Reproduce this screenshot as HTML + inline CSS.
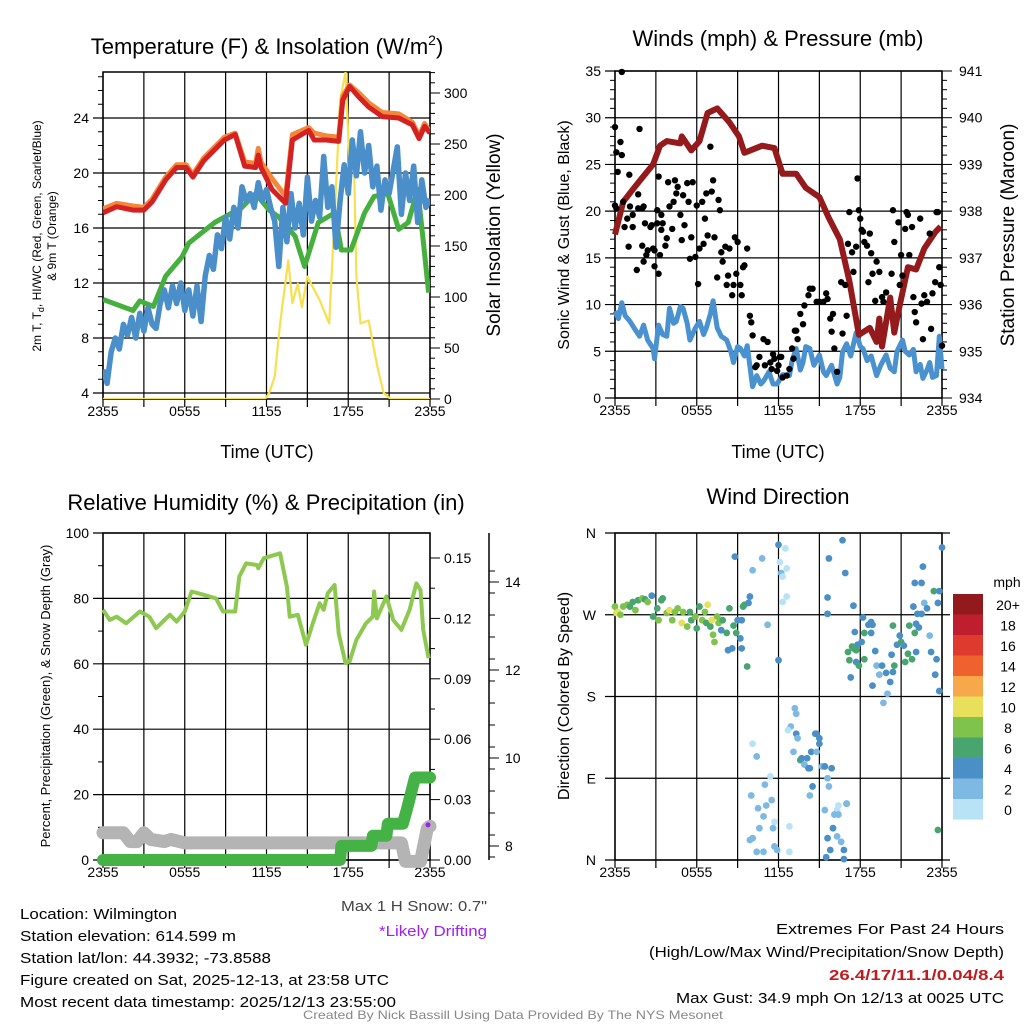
<!DOCTYPE html>
<html><head><meta charset="utf-8"><style>
html,body{margin:0;padding:0;background:#fff;}
svg{display:block;font-family:"Liberation Sans",sans-serif;}
</style></head><body>
<svg id="fig" width="1024" height="1024" viewBox="0 0 1024 1024" xmlns="http://www.w3.org/2000/svg"></svg>
<script>
// ---------- DATA ----------
const tempT = [0,1,2.2,3,3.6,4.6,5.4,6.1,6.6,7.4,8.9,9.7,10.4,11.2,11.4,11.6,12.4,13.4,13.9,15.1,15.5,16.4,17.3,17.6,18.1,18.8,19.5,20.5,21.7,22.7,23.2,23.6,24];
const tempRed = [17.1,17.55,17.3,17.3,17.9,19.5,20.4,20.4,19.7,20.9,22.4,22.8,20.5,20.4,21.3,20.4,18.8,17.8,22.4,23.1,22.4,22.4,22.3,25.3,26.3,25.5,24.8,24.1,24.0,23.5,22.5,23.4,22.9];
const tempOrange = [17.4,17.8,17.6,17.5,18.1,19.7,20.6,20.6,19.9,21.1,22.6,22.9,20.8,20.7,21.8,20.8,19.6,18.3,22.8,23.3,22.9,22.7,22.6,25.6,26.4,25.8,25.1,24.4,24.3,23.7,22.7,23.6,23.0];
const dewT = [0,2.2,2.7,3.7,4.6,5.8,6.3,8.2,10.2,11.2,12.2,12.9,14.1,14.8,15.8,17.0,17.5,18.2,19.2,19.9,20.9,21.7,22.4,23.1,23.5,23.9];
const dewV = [10.8,10.0,10.7,10.3,12.5,13.9,14.9,16.4,17.5,18.5,17.3,16.8,15.4,13.2,16.4,17.1,14.4,14.4,17.1,18.3,18.5,15.9,16.4,18.8,15.1,11.3];
const blueT = [0,0.3,0.6,0.9,1.2,1.5,1.8,2.1,2.4,2.7,3.0,3.3,3.6,3.9,4.2,4.5,4.8,5.1,5.4,5.7,6.0,6.3,6.6,6.9,7.2,7.5,7.8,8.1,8.4,8.7,9.0,9.3,9.6,9.9,10.2,10.5,10.8,11.1,11.4,11.7,12.0,12.3,12.6,12.9,13.2,13.5,13.8,14.1,14.4,14.7,15.0,15.3,15.6,15.9,16.2,16.5,16.8,17.1,17.4,17.7,18.0,18.3,18.6,18.9,19.2,19.5,19.8,20.1,20.4,20.7,21.0,21.3,21.6,21.9,22.2,22.5,22.8,23.1,23.4,23.7,24];
const blueV = [5.7,4.7,7.0,8.0,7.2,9.0,8.2,9.5,8.0,9.8,8.5,10.2,9.0,8.7,10.5,11.5,10.2,11.8,10.5,12.0,10.0,11.5,9.6,11.8,9.2,12.5,14.0,13.0,15.5,14.5,16.8,15.2,17.5,16.0,19.0,18.0,18.5,17.5,19.3,18.0,18.8,17.5,16.5,13.2,17.5,15.0,18.5,16.0,17.8,15.5,19.7,16.5,18.0,16.8,21.2,17.5,19.0,14.6,18.0,20.6,18.5,22.4,19.8,23.0,20.0,22.0,19.0,20.5,17.3,19.5,18.5,20.2,21.9,17.0,20.0,18.0,20.5,16.4,19.5,17.5,18.1];
const solT = [0,11.9,12.2,12.6,13.0,13.6,13.9,14.3,14.6,15.0,15.4,15.9,16.6,17.0,17.4,17.8,18.1,18.4,18.6,18.9,19.5,19.9,20.2,20.6,21.1,21.6,24];
const solV = [0,0,6,22,74,136,94,113,90,120,110,97,74,179,293,320,228,244,120,74,77,48,28,6,0,0,0];
const presT = [0,0.6,1.4,2.8,3.3,3.8,4.8,4.9,5.6,6.2,6.8,7.5,8.4,9.1,9.5,10.8,11.7,12.3,13.3,14.0,15.0,15.7,16.5,17.2,17.9,18.7,19.2,19.4,19.6,20.2,20.5,20.8,21.5,22.1,22.7,23.5,23.9];
const presV = [937.5,938.2,938.5,939.0,939.4,939.5,939.45,939.6,939.3,939.5,940.1,940.2,939.9,939.6,939.25,939.4,939.35,938.8,938.8,938.5,938.3,937.85,937.4,936.5,935.35,935.5,935.2,935.7,935.1,936.15,935.4,935.85,936.8,936.75,937.2,937.55,937.67];
const sonicT = [0,0.25,0.5,0.75,1.1,1.4,1.8,2.1,2.4,2.8,2.9,3.2,3.5,3.8,4.0,4.3,4.5,4.8,5.0,5.3,5.5,5.9,6.2,6.5,6.7,7.0,7.2,7.5,7.8,8.2,8.5,8.7,9.0,9.2,9.5,9.7,10.1,10.4,10.7,10.9,11.3,11.6,11.9,12.3,12.8,13.0,13.3,13.6,13.8,14.0,14.3,14.6,15.0,15.3,15.5,15.9,16.3,16.5,16.7,17.0,17.3,17.7,18.0,18.2,18.5,18.8,19.2,19.5,19.9,20.2,20.5,20.7,21.1,21.3,21.6,21.9,22.1,22.4,22.6,22.9,23.1,23.3,23.6,23.8,24.0];
const sonicV = [9.3,8.5,10.2,8.8,8.2,7.5,6.6,7.8,6.2,5.3,4.2,7.8,6.8,6.6,9.6,8.0,8.2,9.8,9.6,8.0,6.2,7.5,8.2,6.8,7.5,9.0,10.4,7.5,6.6,6.2,5.0,3.8,5.5,5.3,4.5,5.6,1.2,2.4,1.5,1.8,2.8,1.5,1.5,2.5,2.4,4.0,5.3,3.0,3.8,5.5,5.3,3.5,4.6,2.8,2.4,3.5,1.5,2.2,4.9,5.8,4.5,7.0,5.5,5.3,4.0,4.5,2.4,3.5,4.6,3.2,2.8,5.0,6.2,5.0,4.6,5.2,2.8,3.6,2.1,3.0,3.8,2.2,2.4,6.6,3.1];
const gustT = [0,0.5,0.1,0.4,0.5,0.2,0,0.1,0.6,0.9,0.7,1.0,1.05,1.1,1.3,1.3,1.6,1.7,1.8,1.7,2.0,2.1,2.0,2.1,2.2,2.3,2.4,2.6,2.7,2.8,2.9,3.1,2.9,3.1,3.2,3.2,3.3,3.4,3.4,3.5,3.7,3.8,3.9,4.0,4.2,4.3,4.4,4.5,4.6,4.8,4.9,5.0,5.1,5.3,5.4,5.5,5.6,5.7,5.9,6.0,6.1,6.2,6.4,6.5,6.6,6.7,6.8,7.0,7.1,7.2,7.3,7.5,7.6,7.7,7.8,7.9,8.1,8.2,8.3,8.4,8.6,8.7,8.8,8.9,9.0,9.2,9.3,9.4,9.5,9.7,9.9,10.0,10.1,10.3,10.4,10.6,10.9,11.0,11.2,11.4,11.5,11.6,11.7,11.9,12.0,12.1,12.2,12.3,12.6,12.8,13.0,13.1,13.2,13.3,13.4,13.6,13.8,13.9,14.2,14.3,14.5,14.8,15.0,15.3,15.5,15.6,15.8,15.9,16.0,16.1,16.3,16.6,16.7,16.9,17.0,17.1,17.2,17.4,17.5,17.7,17.8,17.9,18.0,18.1,18.2,18.3,18.5,18.6,18.7,18.8,18.9,19.1,19.2,19.4,19.6,19.7,19.9,20.3,20.4,20.5,20.8,20.9,21.0,21.1,21.3,21.4,21.5,21.6,21.8,21.9,22.0,22.1,22.4,22.5,22.6,22.7,22.9,23.1,23.2,23.3,23.5,23.6,23.7,23.8,23.9,24.0];
const gustV = [29.0,34.9,26.3,27.4,26.0,24.2,20.6,20.3,21.0,19.2,18.3,16.2,23.9,20.5,18.3,19.6,13.7,21.8,28.8,20.3,20.3,20.5,16.3,14.6,18.7,15.3,15.8,18.3,18.5,16.0,15.8,18.7,14.1,20.1,23.7,13.3,15.3,18.0,19.6,18.7,16.3,17.1,23.1,20.5,18.1,21.0,23.3,21.9,22.6,19.6,16.9,21.7,18.5,23.0,21.0,14.9,17.2,23.1,15.1,20.6,12.2,16.0,21.0,16.5,19.2,21.9,17.4,26.9,22.1,23.3,17.2,12.9,21.2,20.1,15.6,14.6,16.2,12.1,13.1,16.0,11.0,12.1,17.2,13.3,16.7,12.1,11.0,14.0,14.2,16.0,8.8,8.1,6.7,3.3,3.5,4.4,6.3,3.5,6.0,3.8,3.1,4.7,4.2,2.9,3.5,4.4,4.4,2.2,2.4,3.1,5.3,4.2,7.2,7.2,6.3,9.0,7.9,9.9,11.0,11.7,11.7,10.3,10.3,10.3,11.2,10.6,8.5,7.1,9.0,5.3,2.8,12.4,6.9,12.1,8.8,16.5,19.9,15.6,13.5,16.2,23.5,20.1,19.2,18.0,17.8,16.7,16.3,12.4,17.6,15.5,13.3,10.4,14.6,13.5,10.8,10.3,11.3,13.3,20.1,16.7,18.8,12.1,15.3,13.1,18.1,19.9,19.6,15.3,18.3,10.8,9.2,8.1,19.2,10.1,6.3,11.0,10.3,17.6,7.4,11.2,12.4,19.9,19.9,14.0,12.1,5.6];
const rhT = [0,0.5,1.0,1.7,2.7,3.4,3.9,4.9,5.4,6.0,6.5,7.4,8.3,8.8,9.7,10.0,10.5,11.3,11.4,11.8,13.0,13.5,13.7,14.3,14.9,15.4,15.9,16.2,16.5,17.0,17.3,17.8,18.1,18.6,19.3,19.8,19.9,20.1,20.8,21.3,21.9,22.5,23.0,23.3,23.5,23.9];
const rhV = [76.5,73.4,74.4,72.4,76.0,74.4,70.9,75.0,72.9,76.0,82.1,81.1,80.0,76.0,76.0,86.7,90.7,90.2,89.2,92.3,93.8,83.6,74.4,75.0,65.8,72.4,78.5,76.5,81.6,84.1,69.3,60.2,60.7,67.3,72.4,74.4,82.1,73.9,80.6,73.4,70.4,76.5,84.6,82.6,70.4,61.7];
const precipT = [0,17.4,17.5,19.7,19.8,20.8,20.9,22.0,22.3,22.6,22.9,24];
const precipV = [0,0,0.007,0.007,0.012,0.012,0.018,0.018,0.025,0.033,0.041,0.041];
const snowT = [0,1.0,1.5,2.0,2.5,3.0,3.5,4.5,5.0,6.0,21.9,22.2,23.3,23.8,24];
const snowV = [8.3,8.3,8.3,8.1,8.1,8.3,8.15,8.1,8.15,8.07,8.07,7.65,7.65,8.4,8.45];
const driftT = [24];
const driftV = [8.48];
const dirT = [0,0.1,0.2,0.4,0.6,0.9,1.1,1.3,1.5,1.7,2.0,2.2,2.4,2.7,2.8,3.1,3.2,3.4,3.5,3.8,4.0,4.2,4.4,4.6,4.9,5.0,5.3,5.5,5.6,5.9,6.0,6.2,6.4,6.6,6.7,6.8,7.0,7.1,7.2,7.3,7.5,7.6,7.8,7.9,8.2,8.3,8.4,8.6,8.7,8.9,9.0,9.2,9.3,9.3,9.4,9.5,9.7,9.8,9.9,8.8,10.1,10.8,11.2,12.0,12.1,12.2,12.3,12.5,12.6,12.6,12.3,12.0,
10.1,10.4,10.0,11.0,11.4,11.5,10.5,11.1,10.9,10.6,11.7,11.6,9.9,10.1,10.4,10.9,11.7,11.9,12.8,12.8,13.2,13.3,12.9,12.7,13.3,13.4,13.1,13.6,13.7,14.3,14.4,13.9,14.1,14.2,14.5,14.7,15.0,14.8,15.0,14.8,15.2,15.4,15.6,15.7,14.3,15.4,16.3,16.4,17.0,17.0,15.9,16.0,16.3,16.4,16.1,16.6,15.6,15.8,16.8,16.8,15.5,
15.7,15.6,15.6,16.7,16.9,17.5,
18.2,18.6,18.8,18.9,18.8,17.6,18.3,18.1,17.8,17.4,17.1,17.5,17.7,17.2,17.7,17.9,18.3,19.1,19.2,19.4,19.6,19.9,20.2,20.4,20.0,19.7,18.9,17.3,20.3,20.4,20.5,20.7,20.9,21.0,21.2,21.3,21.5,21.6,21.8,22.0,22.5,22.6,21.9,22.2,22.0,22.1,22.3,22.1,22.5,22.7,22.9,23.1,23.2,23.4,23.6,23.5,23.7,23.8,23.8,24.0,23.7];
const dirD = [279,272,273,270,279,281,279,284,275,286,288,287,284,291,268,277,264,286,288,272,275,264,273,277,261,273,257,273,264,268,255,279,264,273,261,281,257,264,248,240,268,261,253,264,250,231,277,233,258,250,264,244,233,264,279,281,213,283,290,334,319,332,259,347,328,316,312,343,321,290,284,220,
128,114,71,83,92,66,57,60,48,35,42,35,22,24,9,9,15,11,37,9,167,161,147,143,139,134,119,110,112,101,119,105,112,101,81,139,134,139,128,119,103,103,90,81,71,55,55,60,62,62,101,35,26,50,50,20,24,11,11,1,3,
332,289,271,352,316,280,
267,259,262,259,250,251,250,240,237,235,229,233,231,220,218,214,221,230,214,204,214,206,196,207,183,173,192,201,226,258,214,237,247,240,236,218,227,258,221,305,305,323,279,271,250,260,256,229,271,283,277,247,229,296,221,204,283,296,186,344,33];
const dirS = [8,10,10,8,8,8,6,6,8,6,8,6,8,4,6,6,8,6,6,8,10,8,8,8,10,8,8,6,6,8,6,6,8,8,6,10,6,10,8,8,8,8,4,6,6,4,6,4,6,6,4,4,4,4,6,6,6,4,4,4,2,2,2,4,0,2,0,0,0,0,0,4,
0,2,2,2,0,2,2,2,2,2,0,2,2,2,2,2,2,2,0,0,2,2,2,0,4,2,2,6,4,4,4,2,4,4,4,4,4,4,4,2,2,4,2,2,2,2,0,0,4,2,4,4,2,2,2,2,4,4,4,4,4,
4,4,4,4,4,4,
4,4,4,4,4,4,6,4,4,6,6,6,6,6,4,6,6,4,2,2,4,4,4,4,2,2,4,4,4,6,6,4,4,6,4,6,6,6,6,4,4,4,4,4,6,4,4,4,4,2,4,2,4,6,4,4,4,4,4,4,6];
const cbLabels = ["20+","18","16","14","12","10","8","6","4","2","0"];
const cbColors = ["#921a1d","#be1e2d","#df3a2e","#f0622d","#f7a84a","#e8df5a","#7fc24c","#49a56f","#4a8fc6","#7db9e2","#b8e2f6"];
const xTickLabels = ["2355","0555","1155","1755","2355"];

// ---------- HELPERS ----------
const NS="http://www.w3.org/2000/svg";
const svg=document.getElementById('fig');
function mk(tag,attrs,parent){const e=document.createElementNS(NS,tag);for(const k in attrs)e.setAttribute(k,attrs[k]);(parent||svg).appendChild(e);return e;}
function txt(s,x,y,size,anchor,parent,extra){const e=mk('text',Object.assign({x:x,y:y,'font-size':size,'text-anchor':anchor||'middle',fill:'#000'},extra||{}),parent);e.textContent=s;return e;}
function lin(d0,d1,r0,r1){return v=>r0+(v-d0)*(r1-r0)/(d1-d0);}
function speedColor(s){let i=Math.min(10,Math.floor(s/2));return cbColors[10-i];}
function path(xs,ys,fx,fy){return xs.map((t,i)=>(i?'L':'M')+fx(t).toFixed(1)+','+fy(ys[i]).toFixed(1)).join('');}

function frame(g,L,R,T,B,xf){
  for(let h=0;h<=24;h+=3){const x=xf(h);
    const gl=mk('line',{x1:x,y1:T,x2:x,y2:B+8,stroke:'#000','stroke-width':1.2},g);
    
    
  }
  for(let i=0;i<5;i++){const t=txt(xTickLabels[i],xf(i*6),B+17,14,'middle',g);
    
    }
  const r=mk('rect',{x:L,y:T,width:R-L,height:B-T,fill:'none',stroke:'#000','stroke-width':1.5},g);
  
  
}

// ---------- PANEL 1 ----------
(function(){
  const g=mk('g',{});
  
  
  const L=103,R=430,T=72,B=399;
  const x=lin(0,24,L,R), y=lin(24,4,118,393), ys=lin(0,300,399,93);
  for(let v=4;v<=24;v+=4){mk('line',{x1:L-10,y1:y(v),x2:R,y2:y(v),stroke:'#000','stroke-width':1.2},g);
    const t=txt(String(v),L-14,y(v)+5,14,'end',g);
    
    }
  for(let v=5;v<=27;v++){if(v%4)mk('line',{x1:L-5,y1:y(v),x2:L,y2:y(v),stroke:'#000'},g);}
  for(let v=0;v<=320;v+=10){const maj=v%50===0;mk('line',{x1:R,y1:ys(v),x2:R+(maj?10:5),y2:ys(v),stroke:'#000'},g);
    if(maj){const t=txt(String(v),R+14,ys(v)+5,14,'start',g);
      
      }}
  frame(g,L,R,T,B,x);
  const clip=mk('clipPath',{id:'c1'},g);mk('rect',{x:L,y:T,width:R-L,height:B-T},clip);
  const d=mk('g',{'clip-path':'url(#c1)'},g);
  const s1=mk('path',{d:path(solT,solV,x,ys),fill:'none',stroke:'#f7e04f','stroke-width':2.2,'stroke-linejoin':'round'},d);
  
  
  const s2=mk('path',{d:path(dewT,dewV,x,y),fill:'none',stroke:'#45b03d','stroke-width':5,'stroke-linejoin':'round'},d);
  
  
  const s3=mk('path',{d:path(blueT,blueV,x,y),fill:'none',stroke:'#4a8fc9','stroke-width':5.5,'stroke-linejoin':'round'},d);
  
  
  const s4=mk('path',{d:path(tempT,tempOrange,x,y),fill:'none',stroke:'#f4873a','stroke-width':5,'stroke-linejoin':'round'},d);
  
  
  const s5=mk('path',{d:path(tempT,tempRed,x,y),fill:'none',stroke:'#d42121','stroke-width':5,'stroke-linejoin':'round'},d);
  
  
  const t1=mk('text',{x:267,y:54,'font-size':22,'text-anchor':'middle'},g);
  t1.innerHTML='Temperature (F) &amp; Insolation (W/m<tspan font-size="14" dy="-9">2</tspan><tspan dy="9">)</tspan>';
  
  
  const ya=mk('text',{transform:'translate(41,236) rotate(-90)','font-size':12,'text-anchor':'middle'},g);
  ya.innerHTML='2m T, T<tspan font-size="9" dy="3">d</tspan><tspan dy="-3">, HI/WC (Red, Green, Scarlet/Blue)</tspan>';
  
  
  const ya2=txt('& 9m T (Orange)',0,0,12,'middle',g,{transform:'translate(56,236) rotate(-90)'});
  
  
  const yr=txt('Solar Insolation (Yellow)',0,0,19,'middle',g,{transform:'translate(500,235) rotate(-90)'});
  
  
  const xt=txt('Time (UTC)',267,458,18,'middle',g);
  
  
})();

// ---------- PANEL 2 ----------
(function(){
  const g=mk('g',{});
  
  
  const L=615,R=942,T=71,B=398;
  const x=lin(0,24,L,R), y=lin(0,35,B,T), yp=lin(934,941,B,T);
  for(let v=0;v<=35;v+=5){mk('line',{x1:L-10,y1:y(v),x2:R,y2:y(v),stroke:'#000','stroke-width':1.2},g);
    const t=txt(String(v),L-14,y(v)+5,14,'end',g);
    
    }
  for(let v=1;v<35;v++){if(v%5)mk('line',{x1:L-5,y1:y(v),x2:L,y2:y(v),stroke:'#000'},g);}
  for(let v=934;v<=941.001;v+=0.2){const maj=Math.abs(v-Math.round(v))<0.01;mk('line',{x1:R,y1:yp(v),x2:R+(maj?10:5),y2:yp(v),stroke:'#000'},g);
    if(maj){const t=txt(String(Math.round(v)),R+17,yp(v)+5,14,'start',g);
      
      }}
  frame(g,L,R,T,B,x);
  const clip=mk('clipPath',{id:'c2'},g);mk('rect',{x:L-4,y:T-4,width:R-L+8,height:B-T+8},clip);
  const d=mk('g',{'clip-path':'url(#c2)'},g);
  const s1=mk('path',{d:path(sonicT,sonicV,x,y),fill:'none',stroke:'#4a92cf','stroke-width':5,'stroke-linejoin':'round'},d);
  
  
  const s2=mk('path',{d:path(presT,presV,x,yp),fill:'none',stroke:'#951a1c','stroke-width':6,'stroke-linejoin':'round'},d);
  
  
  for(let i=0;i<gustT.length;i++){const c=mk('circle',{cx:x(gustT[i]),cy:y(gustV[i]),r:3.2,fill:'#000'},d);
    
    }
  const t1=txt('Winds (mph) & Pressure (mb)',778,46,22,'middle',g);
  
  
  const yl=txt('Sonic Wind & Gust (Blue, Black)',0,0,16,'middle',g,{transform:'translate(569,235) rotate(-90)'});
  
  
  const yr=txt('Station Pressure (Maroon)',0,0,19,'middle',g,{transform:'translate(1014,235) rotate(-90)'});
  
  
  const xt=txt('Time (UTC)',778,458,18,'middle',g);
  
  
})();

// ---------- PANEL 3 ----------
(function(){
  const g=mk('g',{});
  
  
  const L=103,R=430,T=533,B=860;
  const x=lin(0,24,L,R), y=lin(0,100,B,T), yp=lin(0,0.15,B,558), ysn=lin(8,14,846,582);
  for(let v=0;v<=100;v+=20){mk('line',{x1:L-10,y1:y(v),x2:R,y2:y(v),stroke:'#000','stroke-width':1.2},g);
    const t=txt(String(v),L-14,y(v)+5,14,'end',g);
    
    }
  for(let v=10;v<100;v+=20)mk('line',{x1:L-5,y1:y(v),x2:L,y2:y(v),stroke:'#000'},g);
  for(let v=0;v<=0.16;v+=0.015){const maj=Math.round(v*1000)%30===0;mk('line',{x1:R,y1:yp(v),x2:R+(maj?10:5),y2:yp(v),stroke:'#000'},g);
    if(maj){const t=txt(v.toFixed(2),R+14,yp(v)+5,14,'start',g);
      
      }}
  const sx=489;
  mk('line',{x1:sx,y1:T,x2:sx,y2:B,stroke:'#000','stroke-width':1.5},g);
  for(let v=7.75;v<=14.7;v+=0.5){mk('line',{x1:sx,y1:ysn(v),x2:sx+6,y2:ysn(v),stroke:'#000'},g);}
  for(let v=8;v<=14;v+=2){mk('line',{x1:sx,y1:ysn(v),x2:sx+10,y2:ysn(v),stroke:'#000'},g);
    const t=txt(String(v),sx+16,ysn(v)+5,14,'start',g);
    
    }
  frame(g,L,R,T,B,x);
  const d=mk('g',{},g);
  const s1=mk('path',{d:path(snowT,snowV,x,ysn),fill:'none',stroke:'#b4b4b4','stroke-width':13,'stroke-linejoin':'round','stroke-linecap':'round'},d);
  
  
  const s2=mk('path',{d:path(precipT,precipV,x,yp),fill:'none',stroke:'#45b245','stroke-width':12,'stroke-linejoin':'round','stroke-linecap':'round'},d);
  
  
  const s3=mk('path',{d:path(rhT,rhV,x,y),fill:'none',stroke:'#8dc84f','stroke-width':4,'stroke-linejoin':'round'},d);
  
  
  for(let i=0;i<driftT.length;i++){const c=mk('circle',{cx:x(driftT[i])-2,cy:ysn(driftV[i]),r:2.5,fill:'#a020f0'},d);
    
    }
  const t1=txt('Relative Humidity (%) & Precipitation (in)',266,510,22,'middle',g);
  
  
  const yl=txt('Percent, Precipitation (Green), & Snow Depth (Gray)',0,0,13,'middle',g,{transform:'translate(50,696) rotate(-90)'});
  
  
})();

// ---------- PANEL 4 ----------
(function(){
  const g=mk('g',{});
  
  
  const L=615,R=942,T=533,B=860;
  const x=lin(0,24,L,R), y=lin(0,360,B,T);
  const dl=['N','E','S','W','N'];
  for(let i=0;i<5;i++){const v=i*90;mk('line',{x1:L-10,y1:y(v),x2:R+8,y2:y(v),stroke:'#000','stroke-width':1.2},g);
    const t=txt(dl[i],L-19,y(v)+5,14,'end',g);
    
    }
  frame(g,L,R,T,B,x);
  for(let i=0;i<dirT.length;i++){const c=mk('circle',{cx:x(dirT[i]),cy:y(dirD[i]),r:3.4,fill:speedColor(dirS[i])},g);
    
    }
  const cb=mk('g',{},g);
  
  
  for(let i=0;i<cbColors.length;i++){const yy=594+i*20.5;
    const r=mk('rect',{x:953,y:yy,width:30,height:20.6,fill:cbColors[i]},cb);
    
    
    const t=txt(cbLabels[i],1008,yy+16,14,'middle',cb);
    
    }
  const mph=txt('mph',1007,587,14,'middle',cb);
  
  
  const t1=txt('Wind Direction',778,504,22,'middle',g);
  
  
  const yl=txt('Direction (Colored By Speed)',0,0,16,'middle',g,{transform:'translate(569,696) rotate(-90)'});
  
  
})();

// ---------- FOOTER TEXT ----------
(function(){
  const g=mk('g',{});
  
  
  const lines=[['Location: Wilmington',919,157],['Station elevation: 614.599 m',941,216],['Station lat/lon: 44.3932; -73.8588',963,251],['Figure created on Sat, 2025-12-13, at 23:58 UTC',985,369],['Most recent data timestamp: 2025/12/13 23:55:00',1007,376]];
  const names=['location-text','elevation-text','latlon-text','created-text','timestamp-text'];
  lines.forEach((l,i)=>{const t=txt(l[0],20,l[1],15,'start',g,{textLength:l[2],lengthAdjust:'spacingAndGlyphs'});
    
    });
  const a=txt('Max 1 H Snow: 0.7"',487,911,15,'end',g,{fill:'#444',textLength:146,lengthAdjust:'spacingAndGlyphs'});
  
  
  const b=txt('*Likely Drifting',487,936,15,'end',g,{fill:'#a020f0',textLength:108,lengthAdjust:'spacingAndGlyphs'});
  
  
  const r=[['Extremes For Past 24 Hours',934,228,'#000','normal'],['(High/Low/Max Wind/Precipitation/Snow Depth)',957,355,'#000','normal'],['26.4/17/11.1/0.04/8.4',980,175,'#c01c20','bold'],['Max Gust: 34.9 mph On 12/13 at 0025 UTC',1003,328,'#000','normal']];
  const rn=['extremes-title','extremes-legend','extremes-values','max-gust-text'];
  r.forEach((l,i)=>{const t=txt(l[0],1004,l[1],15,'end',g,{fill:l[3],'font-weight':l[4],textLength:l[2],lengthAdjust:'spacingAndGlyphs'});
    
    });
  const c=txt('Created By Nick Bassill Using Data Provided By The NYS Mesonet',513,1019,12,'middle',g,{fill:'#888',textLength:420,lengthAdjust:'spacingAndGlyphs'});
  
  
})();
</script>
</body></html>
